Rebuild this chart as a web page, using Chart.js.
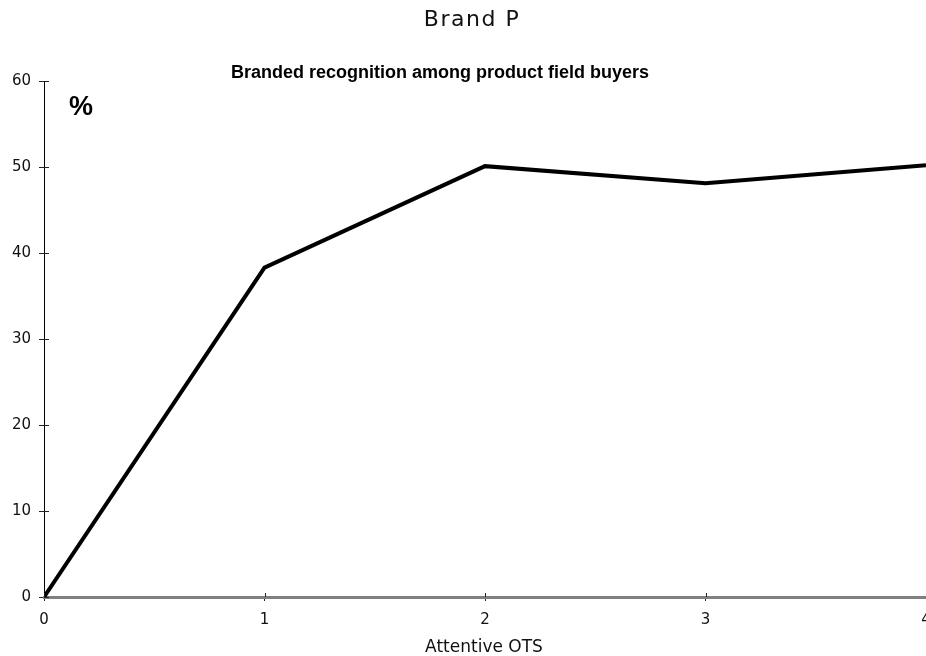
<!DOCTYPE html>
<html>
<head>
<meta charset="utf-8">
<script src="https://cdn.jsdelivr.net/npm/chart.js@4.4.1/dist/chart.umd.min.js"></script>
<style>
    html, body { margin: 0; padding: 0; background: #fff; }
    #wrap { width: 926px; height: 656px; }
</style>
</head>
<body>
<div id="wrap"><canvas id="chart" width="926" height="656"></canvas></div>
<script>
// Data
const otsValues = [0, 1, 2, 3, 4];
const recognition = [0, 38.3, 50.1, 48.1, 50.2];
const yTicks = [0, 10, 20, 30, 40, 50, 60];

const chartTitle = 'Brand P';
const chartSubtitle = 'Branded recognition among product field buyers';
const yUnit = '%';
const xTitle = 'Attentive OTS';

// Texts and the inner half of the tick marks
const decorPlugin = {
    id: 'decor',
    afterDraw(chart) {
        const ctx = chart.ctx;
        const x = chart.scales.x;
        const y = chart.scales.y;
        const area = chart.chartArea;

        ctx.save();
        ctx.lineWidth = 1;
        ctx.strokeStyle = '#222';
        otsValues.forEach(v => {
            const px = Math.round(x.getPixelForValue(v)) + 0.5;
            ctx.beginPath();
            ctx.moveTo(px, area.bottom);
            ctx.lineTo(px, area.bottom - 4);
            ctx.stroke();
        });
        yTicks.forEach(v => {
            const py = Math.round(y.getPixelForValue(v)) + 0.5;
            ctx.beginPath();
            ctx.moveTo(area.left, py);
            ctx.lineTo(area.left + 5, py);
            ctx.stroke();
        });

        ctx.fillStyle = '#111';
        ctx.textAlign = 'center';
        ctx.textBaseline = 'middle';
        ctx.font = "22px 'DejaVu Sans'";
        ctx.letterSpacing = '1.5px';
        ctx.fillText(chartTitle, 472, 20);
        ctx.letterSpacing = '0px';

        ctx.fillStyle = '#000';
        ctx.font = "bold 18px 'Liberation Sans'";
        ctx.fillText(chartSubtitle, 440, 73);

        ctx.font = "bold 27px 'Liberation Sans'";
        ctx.textAlign = 'left';
        ctx.fillText(yUnit, 69, 108);

        ctx.fillStyle = '#111';
        ctx.textAlign = 'center';
        ctx.font = "17px 'DejaVu Sans'";
        ctx.fillText(xTitle, 484, 648);
        ctx.restore();
    }
};

const ctx = document.getElementById('chart').getContext('2d');

new Chart(ctx, {
    type: 'line',
    data: {
        datasets: [{
            data: otsValues.map((v, i) => ({ x: v, y: recognition[i] })),
            borderColor: '#000',
            borderWidth: 4,
            pointRadius: 0,
            tension: 0,
            fill: false
        }]
    },
    options: {
        responsive: false,
        animation: false,
        layout: { padding: { top: 81, left: 0, right: 0, bottom: 0 } },
        plugins: {
            legend: { display: false },
            tooltip: { enabled: false }
        },
        scales: {
            x: {
                type: 'linear',
                min: 0,
                max: 4,
                afterFit(scale) {
                    scale.height = 59;
                    scale.paddingLeft = 0;
                    scale.paddingRight = 0;
                },
                afterBuildTicks(scale) {
                    scale.ticks = otsValues.map(v => ({ value: v }));
                },
                grid: {
                    drawOnChartArea: false,
                    drawTicks: true,
                    tickLength: 4,
                    color: '#222'
                },
                border: { color: '#808080', width: 3 },
                ticks: {
                    padding: 10,
                    maxRotation: 0,
                    autoSkip: false,
                    color: '#111',
                    font: { family: 'DejaVu Sans', size: 15 }
                }
            },
            y: {
                min: 0,
                max: 60,
                afterFit(scale) {
                    scale.width = 44;
                    scale.paddingTop = 0;
                    scale.paddingBottom = 0;
                },
                afterBuildTicks(scale) {
                    scale.ticks = yTicks.map(v => ({ value: v }));
                },
                grid: {
                    drawOnChartArea: false,
                    drawTicks: true,
                    tickLength: 5,
                    color: '#222'
                },
                border: { color: '#000', width: 1 },
                ticks: {
                    padding: 8,
                    color: '#111',
                    font: { family: 'DejaVu Sans', size: 15 }
                }
            }
        }
    },
    plugins: [decorPlugin]
});
</script>
</body>
</html>
